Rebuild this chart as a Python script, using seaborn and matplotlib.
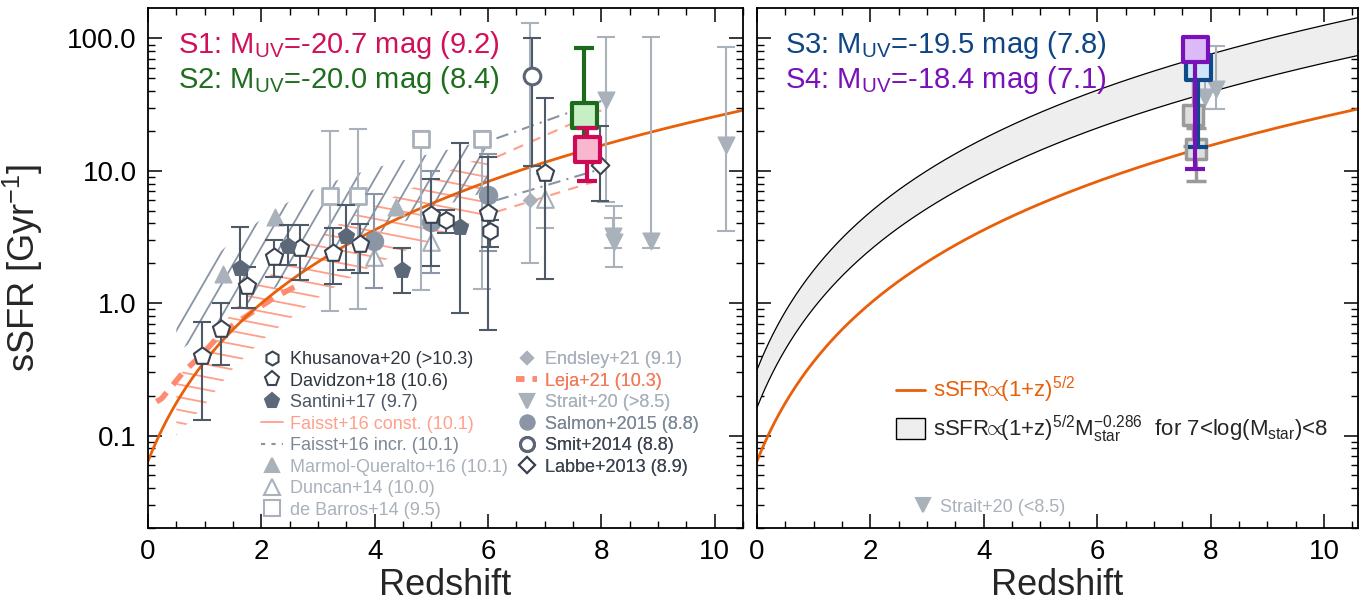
import numpy as np
import pandas as pd
import matplotlib
matplotlib.use("Agg")
import matplotlib.pyplot as plt
from matplotlib.lines import Line2D
from matplotlib.patches import Patch
from matplotlib.collections import LineCollection
from matplotlib.ticker import FixedLocator, FixedFormatter, MultipleLocator, LogLocator, NullFormatter
import seaborn as sns

# ---------------- data ----------------
# Khusanova+20
khus_z = [5.26, 6.04]
khus_v = [4.25, 3.52]
khus_lo = [3.41, 2.67]
khus_hi = [5.06, 4.25]
# Davidzon+18
davi_z = [0.95, 1.29, 1.74, 2.22, 2.69, 3.26, 3.74, 4.99, 6.00, 7.00]
davi_v = [0.40, 0.64, 1.35, 2.25, 2.60, 2.41, 2.80, 4.60, 4.83, 9.70]
davi_lo = [0.13, 0.34, 0.92, 1.59, 1.49, 1.39, 1.70, 1.92, 0.63, 1.51]
davi_hi = [0.72, 1.00, 1.89, 3.00, 3.90, 3.68, 3.96, 8.65, 12.7, 35.7]
# Santini+17
sant_z = [1.62, 2.47, 3.50, 4.49, 5.50]
sant_v = [1.86, 2.72, 3.24, 1.79, 3.79]
sant_lo = [0.92, 1.95, 1.79, 1.19, 0.84]
sant_hi = [3.78, 3.90, 5.50, 2.63, 16.3]
# Marmol-Queralto+16
marm_z = [1.33, 2.24, 4.37]
marm_v = [1.66, 4.50, 5.30]
# Duncan+14
dunc_z = [3.99, 5.00, 7.00]
dunc_v = [2.25, 2.92, 6.10]
dunc_lo = [np.nan, np.nan, 3.70]
dunc_hi = [np.nan, np.nan, 9.50]
# de Barros+14
debar_z = [3.22, 3.71, 4.81, 5.90]
debar_v = [6.45, 6.40, 17.3, 17.3]
debar_lo = [0.88, 0.90, 1.25, 1.28]
debar_hi = [20.0, 20.6, 20.0, 20.0]
# Endsley+21
ends_z = [6.74]
ends_v = [6.0]
ends_lo = [2.0]
ends_hi = [132.0]
# Strait+20 (>8.5)
strh_z = [8.09, 8.20, 8.22, 8.88, 10.20]
strh_v = [34.5, 3.19, 2.92, 2.97, 15.6]
strh_lo = [5.84, 2.60, 1.89, 2.60, 3.50]
strh_hi = [103.5, 4.37, 5.40, 103.5, 87.0]
# Strait+20 (<8.5)
strl_z = [7.91, 8.10]
strl_v = [36.1, 41.7]
strl_lo = [29.5, 29.5]
strl_hi = [88.0, 88.0]
# Salmon+2015
salm_z = [3.99, 5.00, 6.00]
salm_v = [2.97, 4.08, 6.56]
salm_lo = [1.30, 1.70, 2.50]
salm_hi = [6.70, 10.0, 13.5]
# Smit+2014
smit_z = [6.77]
smit_v = [51.7]
smit_lo = [10.9]
smit_hi = [101.0]
# Labbe+2013
labb_z = [7.98]
labb_v = [11.0]
labb_lo = [5.94]
labb_hi = [21.9]
# Leja+21
leja_z = [0.15, 0.24, 0.62, 0.98, 1.30, 1.56, 2.21, 2.62]
leja_v = [0.18, 0.19, 0.30, 0.42, 0.60, 0.71, 1.09, 1.35]
# Faisst+16 constant (band)
fcon_z = [0.5, 1.0, 1.5, 2.0, 2.5, 3.0, 3.5, 4.0, 4.5, 5.0, 5.5, 6.0]
fcon_hi = [0.27, 0.45, 0.87, 1.45, 2.1, 3.1, 4.3, 5.4, 6.9, 8.6, 11.0, 13.0]
fcon_lo = [0.10, 0.17, 0.32, 0.52, 0.76, 1.1, 1.5, 1.95, 2.45, 3.0, 3.7, 4.6]
# Faisst+16 increasing (band)
finc_z = [0.5, 1.0, 1.5, 2.0, 2.5, 3.0, 3.5, 4.0, 4.5, 5.0, 5.5, 6.0]
finc_hi = [0.85, 1.9, 3.0, 4.3, 5.9, 7.5, 9.0, 10.5, 12.0, 13.5, 15.2, 17.0]
finc_lo = [0.42, 0.60, 0.85, 1.15, 1.5, 2.0, 2.6, 3.3, 4.1, 5.0, 6.0, 7.0]
# Faisst+16 extrapolations (z>6)
fext_hi_z = [6.15, 8.0]
finc_ext_hi = [17.6, 33.7]
fcon_ext_hi = [12.7, 28.6]
fext_lo_z = [6.15, 7.92]
finc_ext_lo = [6.0, 10.1]
fcon_ext_lo = [4.9, 8.4]
# This work
s_names = ["S1", "S2", "S3", "S4"]
s_muv = ["-20.7", "-20.0", "-19.5", "-18.4"]
s_mass = ["9.2", "8.4", "7.8", "7.1"]
s_z = [7.75, 7.69, 7.77, 7.72]
s_v = [14.5, 26.3, 60.8, 83.6]
s_lo = [8.4, 15.4, 15.2, 10.3]
s_hi = [21.2, 85.0, 60.8, 83.6]
# model: sSFR ∝ (1+z)^{5/2} ; band: × M^-0.286 for 7<logM<8
SSFR_NORM = 0.064
BAND_SCALE_M7 = 4.9
MASS_SLOPE = -0.286

# ---------------- style ----------------
sns.set_theme(style="ticks")
plt.rcParams['font.family'] = ['Liberation Sans', 'DejaVu Sans']
plt.rcParams['mathtext.fontset'] = 'custom'
plt.rcParams['mathtext.rm'] = 'Liberation Sans'
plt.rcParams['mathtext.it'] = 'Liberation Sans:italic'
plt.rcParams['mathtext.bf'] = 'Liberation Sans:bold'
plt.rcParams['axes.linewidth'] = 1.3

DARK = '#3b4350'
DARKBAR = '#4f5a68'
SLATE = '#5b6878'
MID = '#8a95a5'
LIGHT = '#a9b1bb'
PINK = '#ff9f88'
ORANGE = '#e8600a'
FINC = '#8893a3'

fig = plt.figure(figsize=(13.69, 6.10), dpi=100)
ax1 = fig.add_axes([148 / 1369, 82 / 610, 595 / 1369, 520 / 610])
ax2 = fig.add_axes([757 / 1369, 82 / 610, 601 / 1369, 520 / 610])


def pts(ax, z, v, lo, hi, marker, ms, face, edge, ew, ecol, elw=1.5, cap=6.5, zo=3):
    v = np.asarray(v, float)
    if lo is not None:
        ax.errorbar(z, v, yerr=[v - np.asarray(lo, float), np.asarray(hi, float) - v],
                    fmt='none', ecolor=ecol, elinewidth=elw, capsize=cap,
                    capthick=elw, zorder=zo)
    sns.scatterplot(x=list(z), y=list(v), marker=marker, s=ms ** 2, color=face,
                    edgecolor=edge, linewidth=ew, ax=ax, zorder=zo + 0.5, legend=False)


def hatch_band(ax, z, lo, hi, color, angle_deg, spacing_px, lw, zo):
    """Line-fill a band (like IDL polyfill /line_fill) clipped to the band polygon."""
    coll = ax.fill_between(z, lo, hi, facecolor='none', edgecolor='none', zorder=zo)
    W, H = ax.bbox.width, ax.bbox.height
    a = np.deg2rad(angle_deg)
    d = np.array([np.cos(a), np.sin(a)])
    n = np.array([-np.sin(a), np.cos(a)])
    c = np.array([W / 2, H / 2])
    L = np.hypot(W, H)
    segs = []
    for k in np.arange(-L, L, spacing_px):
        p0 = c + k * n - L * d
        p1 = c + k * n + L * d
        segs.append([(p0[0] / W, p0[1] / H), (p1[0] / W, p1[1] / H)])
    lc = LineCollection(segs, colors=color, linewidths=lw, transform=ax.transAxes, zorder=zo)
    lc.set_clip_path(coll.get_paths()[0], ax.transData)
    ax.add_collection(lc, autolim=False)


def model(z):
    return SSFR_NORM * (1 + z) ** 2.5


for ax, xmax in [(ax1, 10.5), (ax2, 10.6)]:
    ax.set_yscale('log')
    ax.set_xlim(0, xmax)
    ax.set_ylim(0.02, 170)
    zz = np.linspace(0, xmax, 300)
    sns.lineplot(x=zz, y=model(zz), color=ORANGE, lw=2, ax=ax, zorder=2.5)

# ---------------- left panel ----------------
hatch_band(ax1, fcon_z, fcon_lo, fcon_hi, PINK, -11, 12.5, 1.3, 1)
hatch_band(ax1, finc_z, finc_lo, finc_hi, FINC, 60, 16, 1.3, 1)
sns.lineplot(x=fext_hi_z, y=finc_ext_hi, color=FINC, lw=1.5, ax=ax1, linestyle=(0, (6, 3, 1, 3)), zorder=1.5)
sns.lineplot(x=fext_lo_z, y=finc_ext_lo, color=FINC, lw=1.5, ax=ax1, linestyle=(0, (6, 3, 1, 3)), zorder=1.5)
sns.lineplot(x=fext_hi_z, y=fcon_ext_hi, color=PINK, lw=1.5, ax=ax1, linestyle=(0, (5, 4)), zorder=1.5)
sns.lineplot(x=fext_lo_z, y=fcon_ext_lo, color=PINK, lw=1.5, ax=ax1, linestyle=(0, (5, 4)), zorder=1.5)
sns.lineplot(x=leja_z, y=leja_v, color='#ff8a70', lw=4, ax=ax1, linestyle=(0, (2.5, 1.8)), zorder=2)

pts(ax1, debar_z, debar_v, debar_lo, debar_hi, 's', 12, 'white', LIGHT, 2, LIGHT, zo=3)
pts(ax1, ends_z, ends_v, ends_lo, ends_hi, 'D', 7, LIGHT, LIGHT, 1, LIGHT, zo=3)
pts(ax1, strh_z, strh_v, strh_lo, strh_hi, 'v', 12, LIGHT, LIGHT, 1, LIGHT, zo=3)
pts(ax1, marm_z, marm_v, None, None, '^', 12, LIGHT, LIGHT, 1, LIGHT, zo=3)
pts(ax1, dunc_z, dunc_v, dunc_lo, dunc_hi, '^', 12, 'white', LIGHT, 1.5, LIGHT, zo=3)
pts(ax1, salm_z, salm_v, salm_lo, salm_hi, 'o', 13, MID, MID, 1, MID, zo=4)
pts(ax1, smit_z, smit_v, smit_lo, smit_hi, 'o', 12, 'white', '#5b6575', 2.2, DARKBAR, zo=5)
pts(ax1, davi_z, davi_v, davi_lo, davi_hi, 'p', 13, 'white', DARK, 1.5, DARKBAR, zo=5)
pts(ax1, sant_z, sant_v, sant_lo, sant_hi, 'p', 12, SLATE, SLATE, 1, DARKBAR, zo=5)
pts(ax1, khus_z, khus_v, khus_lo, khus_hi, 'h', 12, 'white', DARK, 1.5, DARKBAR, zo=5)
pts(ax1, labb_z, labb_v, labb_lo, labb_hi, 'D', 9, 'white', DARK, 1.5, DARKBAR, zo=5)

s_face = ['#f9b6cf', '#c6efc6', '#cfe5f8', '#dcb9f7']
s_edge = ['#cc0a55', '#1d6a1d', '#0d4a8a', '#7a10b8']
s_text = ['#d0105a', '#1e6e1e', '#0e4585', '#7a10b8']
for i in [1, 0]:
    pts(ax1, [s_z[i]], [s_v[i]], [s_lo[i]], [s_hi[i]], 's', 18, s_face[i], s_edge[i], 3,
        s_edge[i], elw=3, cap=7, zo=7 + (1 - i))

for i, y in [(0, 0.929), (1, 0.862)]:
    ax1.text(0.05, y, f"{s_names[i]}: M$_{{\\rm UV}}$={s_muv[i]} mag ({s_mass[i]})",
             transform=ax1.transAxes, color=s_text[i], fontsize=21, va='center', ha='left')

# legends (left panel)
def mk(marker, face, edge, ms, ew=1.5):
    return Line2D([], [], ls='none', marker=marker, mfc=face, mec=edge, ms=ms, mew=ew)

col1 = [
    (mk('h', 'white', DARK, 10), 'Khusanova+20 (>10.3)', '#2f3640'),
    (mk('p', 'white', DARK, 11), 'Davidzon+18 (10.6)', '#2f3640'),
    (mk('p', SLATE, SLATE, 11), 'Santini+17 (9.7)', '#4b5563'),
    (Line2D([], [], color=PINK, lw=1.3), 'Faisst+16 const. (10.1)', '#ffa08a'),
    (Line2D([], [], color=FINC, lw=1.5, ls=(0, (2, 3))), 'Faisst+16 incr. (10.1)', '#7d8897'),
    (mk('^', LIGHT, LIGHT, 10), 'Marmol-Queralto+16 (10.1)', LIGHT),
    (mk('^', 'white', LIGHT, 11), 'Duncan+14 (10.0)', LIGHT),
    (mk('s', 'white', LIGHT, 11), 'de Barros+14 (9.5)', LIGHT),
]
col2 = [
    (mk('D', LIGHT, LIGHT, 6), 'Endsley+21 (9.1)', LIGHT),
    (Line2D([], [], color='#ff8a70', lw=4, ls=(0, (1.5, 1.5))), 'Leja+21 (10.3)', '#f47a5a'),
    (mk('v', LIGHT, LIGHT, 10), 'Strait+20 (>8.5)', LIGHT),
    (mk('o', MID, MID, 10), 'Salmon+2015 (8.8)', '#7d8897'),
    (mk('o', 'white', '#5b6575', 10, 2.2), 'Smit+2014 (8.8)', '#3c4450'),
    (mk('D', 'white', DARK, 8), 'Labbe+2013 (8.9)', '#3c4450'),
]
for col, xa in [(col1, 0.190), (col2, 0.618)]:
    leg = ax1.legend([c[0] for c in col], [c[1] for c in col], loc='upper left',
                     bbox_to_anchor=(xa, 0.340), frameon=False, fontsize=13,
                     handlelength=1.2, handletextpad=0.4, labelspacing=0.25,
                     borderpad=0, borderaxespad=0)
    for t, c in zip(leg.get_texts(), col):
        t.set_color(c[2])
    ax1.add_artist(leg)

# ---------------- right panel ----------------
zz2 = np.linspace(0, 10.6, 300)
band_hi = model(zz2) * BAND_SCALE_M7
band_lo = band_hi * 10 ** MASS_SLOPE
ax2.fill_between(zz2, band_lo, band_hi, facecolor='#eeeeee', edgecolor='none', zorder=1)
sns.lineplot(x=zz2, y=band_hi, color='black', lw=0.9, ax=ax2, zorder=1.5)
sns.lineplot(x=zz2, y=band_lo, color='black', lw=0.9, ax=ax2, zorder=1.5)

pts(ax2, strl_z, strl_v, strl_lo, strl_hi, 'v', 12, LIGHT, LIGHT, 1, LIGHT, zo=3)
GR_F, GR_E = '#dedede', '#9a9a9a'
for i in [0, 1]:
    pts(ax2, [s_z[i]], [s_v[i]], [s_lo[i]], [s_hi[i]], 's', 15, GR_F, GR_E, 2.5, GR_E,
        elw=2.5, cap=7, zo=4)
for i in [2, 3]:
    pts(ax2, [s_z[i]], [s_v[i]], [s_lo[i]], [s_hi[i]], 's', 18, s_face[i], s_edge[i], 3,
        s_edge[i], elw=3, cap=7, zo=6 + i)
for i, y in [(2, 0.929), (3, 0.862)]:
    ax2.text(0.047, y, f"{s_names[i]}: M$_{{\\rm UV}}$={s_muv[i]} mag ({s_mass[i]})",
             transform=ax2.transAxes, color=s_text[i], fontsize=21, va='center', ha='left')

PROP = r'$\!\!\propto\!\!$'
legA = ax2.legend([Line2D([], [], color=ORANGE, lw=2)], ['sSFR' + PROP + '(1+z)$^{5/2}$'],
                  loc='center left', bbox_to_anchor=(0.232, (528 - 390) / 520), frameon=False,
                  fontsize=16, handlelength=1.3, handletextpad=0.35, borderpad=0, borderaxespad=0)
legA.get_texts()[0].set_color(ORANGE)
ax2.add_artist(legA)
legB = ax2.legend([Patch(facecolor='#eeeeee', edgecolor='black', lw=1)],
                  ['sSFR' + PROP + '(1+z)$^{5/2}$M$^{-0.286}_{\\rm star}$  for 7<log(M$_{\\rm star}$)<8'],
                  loc='center left', bbox_to_anchor=(0.232, (528 - 429) / 520), frameon=False,
                  fontsize=16, handlelength=1.3, handleheight=1.1, handletextpad=0.35,
                  borderpad=0, borderaxespad=0)
ax2.add_artist(legB)
legC = ax2.legend([mk('v', LIGHT, LIGHT, 10)], ['Strait+20 (<8.5)'], loc='center left',
                  bbox_to_anchor=(0.262, (528 - 507) / 520), frameon=False, fontsize=13,
                  handlelength=1.0, handletextpad=0.4, borderpad=0, borderaxespad=0)
legC.get_texts()[0].set_color(LIGHT)

# ---------------- axes cosmetics ----------------
for ax in (ax1, ax2):
    ax.xaxis.set_major_locator(MultipleLocator(2))
    ax.xaxis.set_minor_locator(MultipleLocator(0.5))
    ax.yaxis.set_major_locator(FixedLocator([0.1, 1, 10, 100]))
    ax.yaxis.set_minor_locator(LogLocator(base=10, subs=np.arange(2, 10)))
    ax.yaxis.set_minor_formatter(NullFormatter())
    ax.tick_params(which='both', direction='in', top=True, right=True, colors='black')
    ax.tick_params(which='major', length=10, width=1.1, labelsize=20, pad=8)
    ax.tick_params(which='minor', length=5, width=1.0)
    for s in ax.spines.values():
        s.set_color('black')
    ax.set_xlabel('Redshift', fontsize=26, labelpad=2)

ax1.yaxis.set_major_formatter(FixedFormatter(['0.1', '1.0', '10.0', '100.0']))
ax1.set_ylabel(r'sSFR [Gyr$^{-1}$]', fontsize=26, labelpad=16)
ax2.yaxis.set_major_formatter(NullFormatter())
ax2.set_ylabel('')

fig.savefig('out.png', dpi=100)
